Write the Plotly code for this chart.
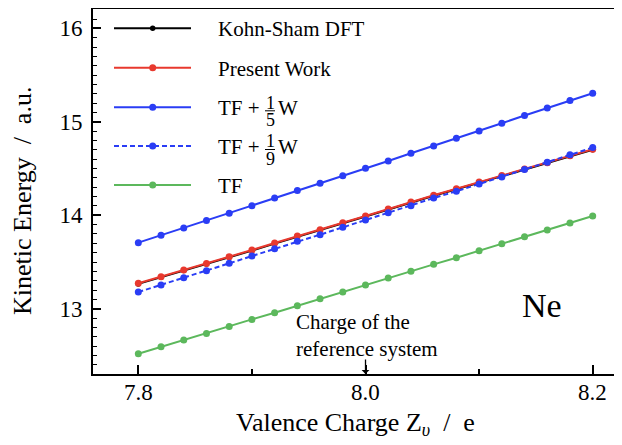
import plotly.graph_objects as go

# ---------------- data ----------------
zv = [7.80, 7.82, 7.84, 7.86, 7.88, 7.90, 7.92, 7.94, 7.96, 7.98, 8.00,
      8.02, 8.04, 8.06, 8.08, 8.10, 8.12, 8.14, 8.16, 8.18, 8.20]

ks_dft = [13.266, 13.336, 13.408, 13.479, 13.551, 13.622, 13.697, 13.772, 13.840, 13.915, 13.987,
          14.062, 14.137, 14.209, 14.278, 14.349, 14.421, 14.489, 14.557, 14.632, 14.700]
present_work = [13.272, 13.342, 13.414, 13.485, 13.557, 13.628, 13.703, 13.778, 13.846, 13.921, 13.993,
                14.068, 14.143, 14.215, 14.284, 14.355, 14.427, 14.495, 14.563, 14.638, 14.706]
tf_w5 = [13.707, 13.786, 13.864, 13.943, 14.021, 14.103, 14.185, 14.264, 14.342, 14.424, 14.503,
         14.581, 14.663, 14.742, 14.824, 14.903, 14.985, 15.067, 15.149, 15.227, 15.306]
tf_w9 = [13.179, 13.254, 13.332, 13.407, 13.486, 13.564, 13.643, 13.721, 13.793, 13.871, 13.950,
         14.028, 14.103, 14.185, 14.257, 14.335, 14.410, 14.489, 14.567, 14.649, 14.724]
tf = [12.519, 12.594, 12.665, 12.736, 12.811, 12.886, 12.957, 13.032, 13.107, 13.179, 13.254,
      13.329, 13.400, 13.475, 13.546, 13.621, 13.696, 13.771, 13.843, 13.917, 13.993]

x_ticks = [7.8, 8.0, 8.2]
x_tick_labels = ["7.8", "8.0", "8.2"]
y_ticks = [13, 14, 15, 16]
y_tick_labels = ["13", "14", "15", "16"]

reference_charge = 8.0

# ---------------- style ----------------
FONT = "Liberation Serif"
BLACK = "#000000"
RED = "#e8392e"
BLUE = "#2a3df5"
GREEN = "#5cb85c"
DASH = "5px,3px"

series = [
    dict(name="Kohn-Sham DFT", y=ks_dft, color=BLACK, dash="solid", msize=5.5, label=("Kohn-Sham DFT", None)),
    dict(name="Present Work", y=present_work, color=RED, dash="solid", msize=7, label=("Present Work", None)),
    dict(name="TF + 1/5 W", y=tf_w5, color=BLUE, dash="solid", msize=7, label=("TF +", "5")),
    dict(name="TF + 1/9 W", y=tf_w9, color=BLUE, dash=DASH, msize=7, label=("TF +", "9")),
    dict(name="TF", y=tf, color=GREEN, dash="solid", msize=7, label=("TF", None)),
]

# page is drawn with an 8px body margin; figure is sized to fill the rest
OFF = 8
W, H = 622 - OFF, 445 - OFF
PLOT_L, PLOT_T, PLOT_B = 93, 9, 374       # plot area edges in page pixels
ML, MR, MT, MB = PLOT_L - OFF, 0, PLOT_T - OFF, (H + OFF) - PLOT_B
PW, PH = W - ML - MR, H - MT - MB


def px(xp):
    return (xp - PLOT_L) / PW


def py(yp):
    return (PLOT_B - yp) / PH


fig = go.Figure()
for s in series:
    fig.add_trace(go.Scatter(
        x=zv, y=s["y"], mode="lines+markers", name=s["name"],
        line=dict(color=s["color"], width=2, dash=s["dash"]),
        marker=dict(color=s["color"], size=s["msize"]),
        showlegend=False,
    ))

shapes = []
annotations = []

# ---- manual legend (needs stacked fractions) ----
row_y = [28.3, 67.7, 107.3, 146.0, 185.0]
for s, ry in zip(series, row_y):
    shapes.append(dict(type="line", xref="paper", yref="paper",
                       x0=px(114), x1=px(191), y0=py(ry), y1=py(ry),
                       line=dict(color=s["color"], width=2, dash=s["dash"])))
    r = s["msize"] / 2
    shapes.append(dict(type="circle", xref="paper", yref="paper",
                       x0=px(152.7 - r), x1=px(152.7 + r), y0=py(ry + r), y1=py(ry - r),
                       fillcolor=s["color"], line=dict(color=s["color"], width=0)))
    main, denom = s["label"]
    annotations.append(dict(xref="paper", yref="paper", x=px(216), y=py(ry + 1),
                            text=main, showarrow=False, xanchor="left", yanchor="middle",
                            font=dict(family=FONT, size=21, color="black")))
    if denom is not None:
        annotations.append(dict(xref="paper", yref="paper", x=px(270), y=py(ry - 5),
                                text="1", showarrow=False, xanchor="center", yanchor="middle",
                                height=13,
                                font=dict(family=FONT, size=18, color="black")))
        annotations.append(dict(xref="paper", yref="paper", x=px(270), y=py(ry + 12.5),
                                text=denom, showarrow=False, xanchor="center", yanchor="middle",
                                height=13,
                                font=dict(family=FONT, size=18, color="black")))
        shapes.append(dict(type="line", xref="paper", yref="paper",
                           x0=px(265), x1=px(275), y0=py(ry + 3.5), y1=py(ry + 3.5),
                           line=dict(color="black", width=1)))
        annotations.append(dict(xref="paper", yref="paper", x=px(276), y=py(ry + 1),
                                text="W", showarrow=False, xanchor="left", yanchor="middle",
                                font=dict(family=FONT, size=21, color="black")))

# ---- text annotations ----
annotations.append(dict(xref="x", yref="y", x=8.1554, y=13.04, text="Ne", showarrow=False,
                        xanchor="center", yanchor="middle",
                        font=dict(family=FONT, size=34, color="black")))
annotations.append(dict(xref="paper", yref="paper", x=px(294), y=py(335),
                        text="Charge of the<br>reference system", showarrow=False,
                        xanchor="left", yanchor="middle", align="left",
                        font=dict(family=FONT, size=21, color="black")))
annotations.append(dict(xref="x", yref="paper", x=reference_charge, y=0, ax=0, ay=-16,
                        axref="pixel", ayref="pixel", text="", showarrow=True,
                        arrowhead=1, arrowsize=1, arrowwidth=1.3, arrowcolor="black", standoff=0))

# ---- x tick labels (placed as annotations for exact vertical position) ----
for tv, tt in zip(x_ticks, x_tick_labels):
    annotations.append(dict(xref="x", yref="paper", x=tv, y=py(392), text=tt, showarrow=False,
                            xanchor="center", yanchor="middle",
                            font=dict(family=FONT, size=23, color="black")))

# ---- axis titles ----
annotations.append(dict(xref="paper", yref="paper", x=px(355), y=py(424),
                        text="Valence Charge Z<sub><i>υ</i></sub>  /  e", showarrow=False,
                        xanchor="center", yanchor="middle",
                        font=dict(family=FONT, size=26, color="black")))
annotations.append(dict(xref="paper", yref="paper", x=px(22), y=py(201),
                        text="Kinetic Energy  /  a.u.", showarrow=False, textangle=-90,
                        xanchor="center", yanchor="middle",
                        font=dict(family=FONT, size=26, color="black")))

fig.update_layout(
    width=W, height=H,
    margin=dict(l=ML, r=MR, t=MT, b=MB, pad=0),
    paper_bgcolor="white", plot_bgcolor="white",
    showlegend=False,
    shapes=shapes, annotations=annotations,
    font=dict(family=FONT, color="black"),
)
fig.update_xaxes(
    range=[7.7601, 8.2258], tickmode="array", tickvals=x_ticks, ticktext=x_tick_labels,
    showticklabels=False,
    ticks="inside", ticklen=9, tickwidth=1.5, tickcolor="black",
    minor=dict(tickmode="array", tickvals=[7.9, 8.1], ticks="inside", ticklen=5, tickwidth=1.5, tickcolor="black"),
    showline=True, linewidth=2, linecolor="black", mirror=True,
    showgrid=False, zeroline=False,
)
fig.update_yaxes(
    range=[12.302, 16.207], tickmode="array", tickvals=y_ticks, ticktext=y_tick_labels,
    ticks="inside", ticklen=8, tickwidth=1.5, tickcolor="black",
    minor=dict(dtick=0.1, tick0=0, ticks="inside", ticklen=4, tickwidth=1.2, tickcolor="black"),
    showline=True, linewidth=2, linecolor="black", mirror=False,
    showgrid=False, zeroline=False, ticklabelstandoff=4,
    tickfont=dict(family=FONT, size=23, color="black"),
)

fig.write_html("out.html")
